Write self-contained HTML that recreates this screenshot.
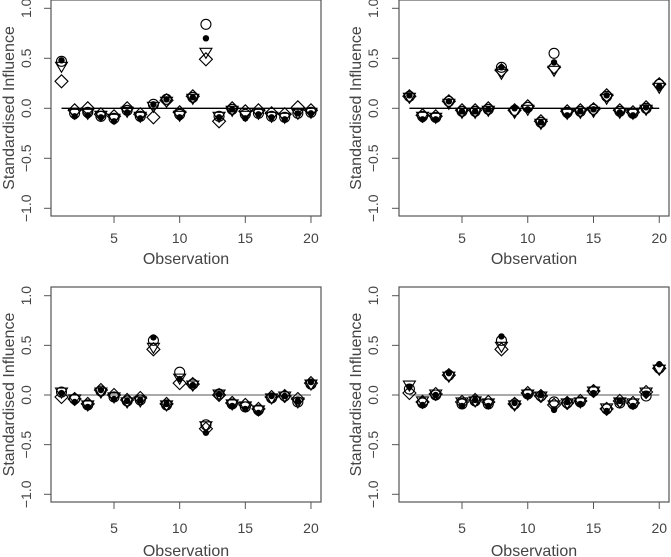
<!DOCTYPE html>
<html><head><meta charset="utf-8"><style>
body{margin:0;background:#fff}
svg{display:block;font-family:"Liberation Sans",sans-serif}
</style></head><body>
<svg id="c" width="671" height="557"></svg>
<script>
const observations=[1,2,3,4,5,6,7,8,9,10,11,12,13,14,15,16,17,18,19,20];
const yTicks=[-1,-0.5,0,0.5,1];
const yTickLabels=["-1.0","-0.5","0.0","0.5","1.0"];
const xTicks=[5,10,15,20];
const p1Circle=[0.47,-0.05,-0.04,-0.08,-0.1,-0.02,-0.08,0.04,0.09,-0.06,0.11,0.84,-0.08,-0.01,-0.06,-0.05,-0.08,-0.09,-0.05,-0.04];
const p1Dot=[0.48,-0.08,-0.07,-0.09,-0.13,-0.04,-0.1,0.04,0.09,-0.09,0.11,0.7,-0.09,-0.01,-0.1,-0.06,-0.09,-0.11,-0.05,-0.05];
const p1Tri=[0.42,-0.05,-0.05,-0.07,-0.1,-0.03,-0.08,0.02,0.07,-0.07,0.1,0.56,-0.08,-0.02,-0.07,-0.05,-0.08,-0.09,-0.05,-0.04];
const p1Dia=[0.27,-0.02,0,-0.06,-0.08,0,-0.06,-0.09,0.08,-0.04,0.12,0.49,-0.13,0,-0.03,-0.02,-0.05,-0.06,0.01,-0.02];
const p2Circle=[0.12,-0.08,-0.09,0.07,-0.03,-0.03,-0.01,0.41,-0.02,0.01,-0.14,0.55,-0.04,-0.03,-0.01,0.12,-0.03,-0.05,0,0.24];
const p2Dot=[0.13,-0.11,-0.11,0.07,-0.03,-0.03,-0.01,0.41,0,-0.01,-0.14,0.46,-0.07,-0.03,-0.01,0.13,-0.04,-0.07,0.01,0.22];
const p2Tri=[0.11,-0.08,-0.09,0.05,-0.04,-0.04,-0.02,0.35,-0.04,-0.01,-0.15,0.38,-0.05,-0.04,-0.03,0.1,-0.04,-0.05,-0.01,0.21];
const p2Dia=[0.12,-0.07,-0.08,0.07,-0.02,-0.02,0,0.38,-0.02,0.02,-0.13,0.41,-0.03,-0.02,-0.01,0.13,-0.02,-0.04,0.01,0.24];
const p3Circle=[0.03,-0.04,-0.1,0.04,-0.02,-0.06,-0.05,0.55,-0.1,0.23,0.11,-0.3,0.01,-0.09,-0.12,-0.15,-0.03,-0.01,-0.07,0.11];
const p3Dot=[0.02,-0.07,-0.12,0.05,-0.04,-0.06,-0.05,0.58,-0.09,0.16,0.1,-0.38,0.01,-0.11,-0.14,-0.18,-0.01,-0.01,-0.06,0.13];
const p3Tri=[0.03,-0.04,-0.1,0.03,-0.02,-0.07,-0.06,0.48,-0.1,0.17,0.1,-0.31,0.01,-0.09,-0.11,-0.15,-0.03,-0.01,-0.07,0.11];
const p3Dia=[-0.02,-0.04,-0.09,0.05,0,-0.05,-0.03,0.46,-0.09,0.12,0.11,-0.34,0,-0.08,-0.1,-0.14,-0.02,-0.01,-0.04,0.12];
const p4Circle=[0.06,-0.08,0,0.2,-0.09,-0.06,-0.09,0.55,-0.09,0.01,-0.01,-0.07,-0.08,-0.07,0.04,-0.14,-0.08,-0.09,-0.01,0.27];
const p4Dot=[0.08,-0.1,0,0.22,-0.11,-0.05,-0.11,0.59,-0.08,-0.01,0,-0.15,-0.07,-0.09,0.02,-0.16,-0.06,-0.11,0.01,0.31];
const p4Tri=[0.1,-0.06,0.01,0.19,-0.07,-0.06,-0.08,0.49,-0.1,0.01,-0.01,-0.1,-0.08,-0.07,0.04,-0.13,-0.07,-0.08,0.03,0.26];
const p4Dia=[0.02,-0.07,0.01,0.2,-0.07,-0.05,-0.07,0.46,-0.09,0.02,-0.01,-0.1,-0.08,-0.06,0.04,-0.14,-0.06,-0.08,0.03,0.27];

const panels=[
 {name:'panel-top-left',L:51,R:321,T:0,B:216,x0:61.5,dx:13.13,yz:108.3,yu:100,zero:'#000',series:[p1Circle,p1Dot,p1Tri,p1Dia],ylx:31,ytx:9,xly:243,xty:264},
 {name:'panel-top-right',L:399,R:669,T:0,B:216,x0:409.4,dx:13.15,yz:108.3,yu:100,zero:'#000',series:[p2Circle,p2Dot,p2Tri,p2Dia],ylx:378,ytx:356,xly:243,xty:264},
 {name:'panel-bottom-left',L:51,R:321,T:287,B:502,x0:61.5,dx:13.13,yz:395,yu:99.3,zero:'#777',series:[p3Circle,p3Dot,p3Tri,p3Dia],ylx:31,ytx:9,xly:533,xty:556},
 {name:'panel-bottom-right',L:399,R:669,T:287,B:502,x0:409.4,dx:13.15,yz:395,yu:99.3,zero:'#777',series:[p4Circle,p4Dot,p4Tri,p4Dia],ylx:378,ytx:356,xly:533,xty:556}
];
const NS='http://www.w3.org/2000/svg';
const svg=document.getElementById('c');
function mk(t,a,p){const e=document.createElementNS(NS,t);for(const k in a)e.setAttribute(k,a[k]);(p||svg).appendChild(e);return e;}
panels.forEach(P=>{
 const g=mk('g',{});
 
 
 const X=i=>P.x0+P.dx*(i-1);
 const Y=v=>P.yz-P.yu*v;
 const box=mk('rect',{x:P.L,y:P.T,width:P.R-P.L,height:P.B-P.T,fill:'none',stroke:'#555','stroke-width':1.2},g);
 
 
 yTicks.forEach((t,k)=>{
  mk('line',{x1:P.L-7,x2:P.L,y1:Y(t),y2:Y(t),stroke:'#555'},g);
  const tx=mk('text',{x:P.ylx,y:Y(t),'font-size':14,fill:'#444','text-anchor':'middle',transform:`rotate(-90 ${P.ylx} ${Y(t)})`},g);
  tx.textContent=yTickLabels[k].replace('-','\u2212');
  
  
 });
 xTicks.forEach(t=>{
  mk('line',{x1:X(t),x2:X(t),y1:P.B,y2:P.B+7,stroke:'#555'},g);
  const tx=mk('text',{x:X(t),y:P.xly,'font-size':14,fill:'#444','text-anchor':'middle'},g);
  tx.textContent=t;
  
  
 });
 const yt=mk('text',{x:P.ytx+5,y:(P.T+P.B)/2,'font-size':16,fill:'#444','text-anchor':'middle',transform:`rotate(-90 ${P.ytx+5} ${(P.T+P.B)/2})`},g);
 yt.textContent='Standardised Influence';
 
 
 const xt=mk('text',{x:(P.L+P.R)/2,y:P.xty,'font-size':16,fill:'#444','text-anchor':'middle'},g);
 xt.textContent='Observation';
 
 
 const zl=mk('line',{x1:X(1),x2:X(20),y1:Y(0),y2:Y(0),stroke:P.zero,'stroke-width':1.3},g);
 
 
 const [C,D,T,M]=P.series;
 observations.forEach((o,i)=>{
  const x=X(o);
  let y=Y(M[i]);
  const d=mk('polygon',{points:`${x},${y-6.5} ${x+6.5},${y} ${x},${y+6.5} ${x-6.5},${y}`,fill:'none',stroke:'#000','stroke-width':1.1},g);
  
  
  y=Y(T[i]);
  const t=mk('polygon',{points:`${x-6},${y-4} ${x+6},${y-4} ${x},${y+6}`,fill:'none',stroke:'#000','stroke-width':1.1},g);
  
  
  const c=mk('circle',{cx:x,cy:Y(C[i]),r:5,fill:'none',stroke:'#000','stroke-width':1.1},g);
  
  
  const f=mk('circle',{cx:x,cy:Y(D[i]),r:3.2,fill:'#000'},g);
  
  
 });
});
</script>
</body></html>
